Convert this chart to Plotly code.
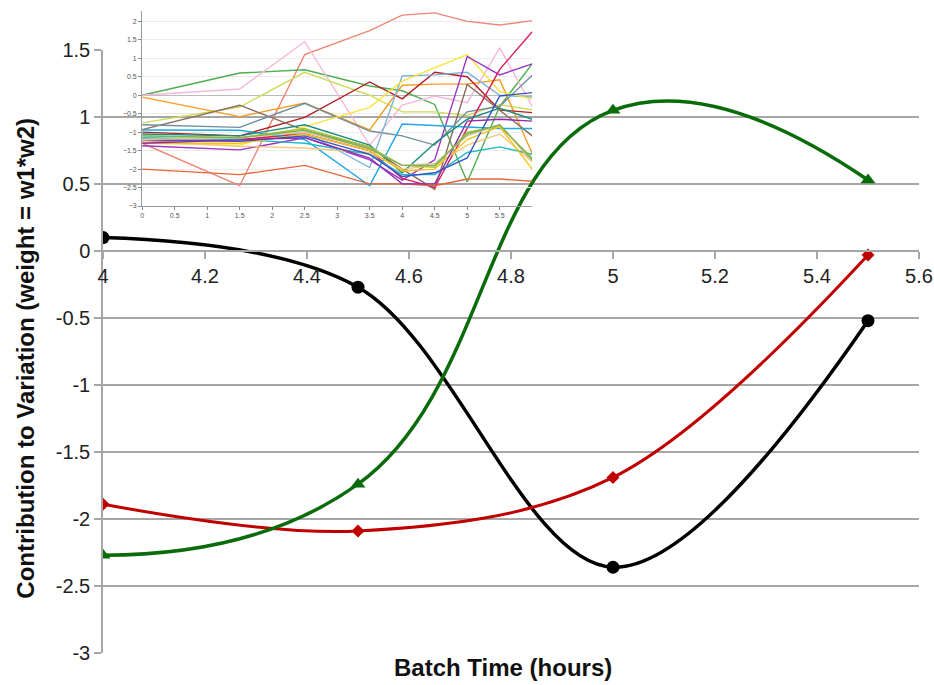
import plotly.graph_objects as go

# ---------------- main chart data ----------------
x_main = [4, 4.5, 5, 5.5]
black_vals = [0.10, -0.27, -2.36, -0.52]
red_vals = [-1.89, -2.09, -1.69, -0.03]
green_vals = [-2.27, -1.74, 1.05, 0.53]

x_tickvals = [4, 4.2, 4.4, 4.6, 4.8, 5, 5.2, 5.4, 5.6]
x_ticktext = ["4", "4.2", "4.4", "4.6", "4.8", "5", "5.2", "5.4", "5.6"]
y_tickvals = [-3, -2.5, -2, -1.5, -1, -0.5, 0, 0.5, 1, 1.5]
y_ticktext = ["-3", "-2.5", "-2", "-1.5", "-1", "-0.5", "0", "0.5", "1", "1.5"]

# ---------------- inset chart data ----------------
inset_x = [0, 1.5, 2.5, 3.5, 4, 4.5, 5, 5.5, 6]
inset_xticks = [0, 0.5, 1, 1.5, 2, 2.5, 3, 3.5, 4, 4.5, 5, 5.5]
inset_yticks = [-3, -2.5, -2, -1.5, -1, -0.5, 0, 0.5, 1, 1.5, 2]

s_salmon = [-1.30, -2.45, 1.10, 1.75, 2.17, 2.23, 2.00, 1.90, 2.02]
s_green = [0.00, 0.60, 0.69, 0.25, 0.12, -0.25, -2.35, -0.30, 0.85]
s_pink = [0.00, 0.17, 1.45, -1.35, -0.27, -0.02, -0.20, 1.28, -0.30]
s_ygreen = [-0.75, -0.32, 0.62, 0.00, -0.45, -0.45, -0.55, -0.25, -0.40]
s_orange = [-0.05, -0.58, -0.21, -0.94, 0.27, 0.30, 0.30, 0.42, -1.58]
s_darkred = [-1.00, -1.10, -0.60, 0.36, -0.10, 0.62, 0.50, -0.40, -0.47]
s_brown = [-0.93, -0.27, -0.95, -1.40, -2.00, -2.55, 0.29, -0.40, -1.10]
s_slate = [-0.80, -0.87, -0.22, -0.97, -1.10, -1.35, -0.45, -0.30, 0.54]
s_lblue = [-1.20, -1.25, -1.00, -1.96, 0.52, 0.55, 0.62, 0.00, -0.05]
s_yellow = [-1.30, -1.35, -0.85, -0.33, 0.38, 0.75, 1.10, 0.10, -0.10]
s_purple = [-1.37, -1.48, -1.15, -1.75, -2.30, -1.75, 1.05, 0.55, 0.85]
s_crimson = [-1.25, -1.20, -1.05, -1.50, -2.25, -2.50, -0.90, 0.70, 1.72]
s_cyan = [-0.94, -0.95, -1.20, -2.45, -0.78, -0.82, -0.85, -0.90, -0.90]
s_redorange = [-2.00, -2.15, -1.90, -2.40, -2.40, -2.45, -2.27, -2.27, -2.33]
s_teal = [-1.05, -1.10, -0.80, -1.35, -2.10, -1.30, -0.65, -0.35, -0.65]
s_lorange = [-1.25, -1.38, -1.43, -1.55, -2.00, -1.90, -1.35, -1.05, -1.80]
s_turq = [-1.15, -1.20, -1.30, -1.60, -2.15, -2.15, -1.55, -1.40, -1.60]
s_lgreen = [-1.10, -1.15, -0.90, -1.40, -1.90, -1.95, -1.00, -0.85, -1.70]
s_gold = [-1.30, -1.30, -1.05, -1.50, -2.05, -2.00, -1.20, -0.85, -2.00]
s_dblue = [-1.20, -1.25, -1.10, -1.60, -2.20, -2.10, -1.70, -0.02, 0.07]
s_violet = [-1.30, -1.22, -1.15, -1.70, -2.40, -2.40, -0.70, -0.65, -0.70]
s_tan = [-1.20, -1.15, -1.00, -1.45, -1.90, -1.85, -1.10, -0.80, -1.80]
s_olive = [-1.10, -1.15, -0.95, -1.45, -1.90, -1.90, -1.05, -0.80, -1.75]

inset_series = [
    (s_salmon, "#EE8674"), (s_green, "#4CAF50"), (s_pink, "#F6B8D8"),
    (s_ygreen, "#CDDC5A"), (s_orange, "#F39C1F"), (s_darkred, "#B51F24"),
    (s_brown, "#8A6D5C"), (s_slate, "#6E8E9E"), (s_lblue, "#7DB4D8"),
    (s_yellow, "#F7E43C"), (s_purple, "#9B34C8"), (s_crimson, "#D81B5C"),
    (s_cyan, "#1CA8E2"), (s_redorange, "#E8643C"), (s_teal, "#1C8C7C"),
    (s_lorange, "#F8C67A"), (s_turq, "#22B8CC"), (s_lgreen, "#9CCB3A"),
    (s_gold, "#F3C318"), (s_dblue, "#3554C4"), (s_violet, "#8E2CA8"),
    (s_tan, "#D9C89E"), (s_olive, "#86B050"),
]

fig = go.Figure()

# inset first (drawn in its own subplot)
for vals, col in inset_series:
    fig.add_trace(go.Scatter(
        x=inset_x, y=vals, mode="lines", xaxis="x2", yaxis="y2",
        line=dict(color=col, width=1.4), showlegend=False, hoverinfo="skip"))

# main series
fig.add_trace(go.Scatter(
    x=x_main, y=black_vals, mode="lines+markers",
    line=dict(color="black", width=3.5, shape="spline", smoothing=1.0),
    marker=dict(symbol="circle", size=13, color="black"), showlegend=False))
fig.add_trace(go.Scatter(
    x=x_main, y=red_vals, mode="lines+markers",
    line=dict(color="#C00000", width=3, shape="spline", smoothing=1.0),
    marker=dict(symbol="diamond", size=10, color="#C00000"), showlegend=False))
fig.add_trace(go.Scatter(
    x=x_main, y=green_vals, mode="lines+markers",
    line=dict(color="#0A6B0A", width=3.5, shape="spline", smoothing=1.3),
    marker=dict(symbol="triangle-up", size=13, color="#0A6B0A"), showlegend=False))

font_fam = "Arial, Liberation Sans, sans-serif"

fig.update_layout(
    width=934, height=685,
    margin=dict(l=103, r=15, t=5, b=32),
    paper_bgcolor="white", plot_bgcolor="rgba(0,0,0,0)",
    font=dict(family=font_fam, size=20, color="#222222"),
    xaxis=dict(
        automargin=False,
        range=[4, 5.6], tickvals=x_tickvals, ticktext=x_ticktext,
        showgrid=False, zeroline=False, showline=True, linecolor="#A6A6A6", linewidth=1.5,
        ticks="outside", ticklen=7, tickcolor="#A6A6A6", tickwidth=1.5,
        anchor="free", position=0.6204,
        tickfont=dict(size=20, color="#222222"),
    ),
    yaxis=dict(
        automargin=False,
        range=[-3, 1.5], domain=[0, 0.9306], tickvals=y_tickvals, ticktext=y_ticktext,
        showgrid=True, gridcolor="#A6A6A6", gridwidth=1.5, zeroline=False,
        showline=True, linecolor="#A6A6A6", linewidth=1.5,
        ticks="outside", ticklen=7, tickcolor="#A6A6A6", tickwidth=1.5,
        tickfont=dict(size=20, color="#222222"),
    ),
    xaxis2=dict(
        automargin=False,
        domain=[0.048, 0.526], anchor="y2", range=[0, 6],
        tickvals=inset_xticks, ticks="outside", ticklen=3, tickcolor="#888888",
        showgrid=False, zeroline=False, showline=True, linecolor="#999999", linewidth=1,
        tickfont=dict(size=7, color="#555555"),
    ),
    yaxis2=dict(
        automargin=False,
        domain=[0.6898, 0.9907], anchor="x2", range=[-3, 2.28],
        tickvals=inset_yticks, ticks="outside", ticklen=3, tickcolor="#888888",
        showgrid=True, gridcolor="#EBEBEB", gridwidth=1,
        zeroline=True, zerolinecolor="#BBBBBB", zerolinewidth=1.2,
        showline=True, linecolor="#999999", linewidth=1,
        tickfont=dict(size=7, color="#555555"),
    ),
    annotations=[
        dict(text="<b>Contribution to Variation (weight = w1*w2)</b>", textangle=-90,
             xref="paper", yref="paper", x=-0.095, y=0.455, xanchor="center", yanchor="middle",
             showarrow=False, font=dict(size=24, color="#111111", family=font_fam)),
        dict(text="<b>Batch Time (hours)</b>",
             xref="paper", yref="paper", x=0.49, y=-0.023, xanchor="center", yanchor="middle",
             showarrow=False, font=dict(size=24, color="#111111", family=font_fam)),
    ],
)

fig.write_html("out.html")
